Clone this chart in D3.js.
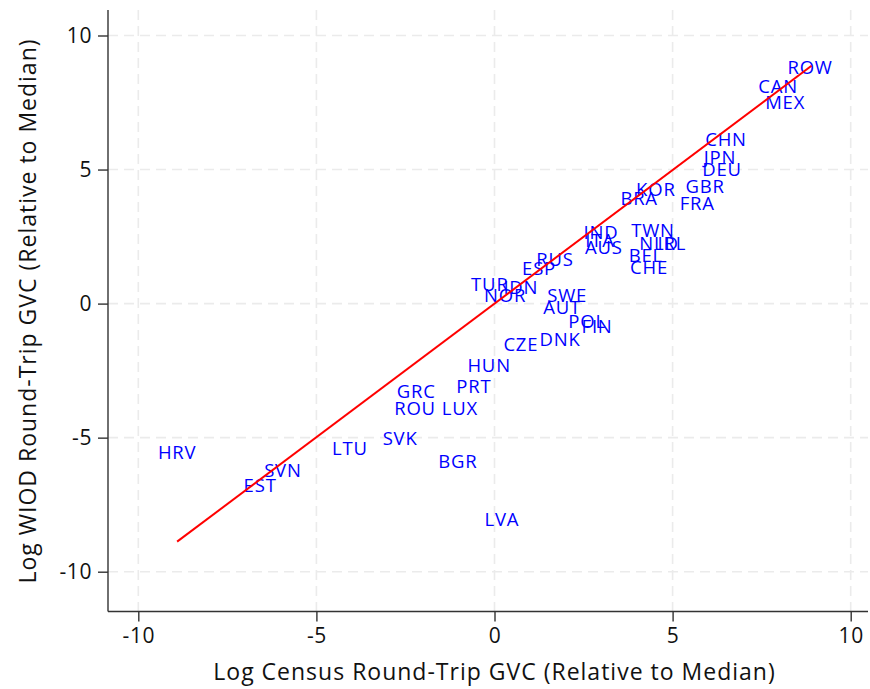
<!DOCTYPE html>
<html><head><meta charset="utf-8">
<script src="https://cdn.jsdelivr.net/npm/d3@7"></script>
<style>body{margin:0;background:#fff}svg{display:block}</style>
</head><body>
<script>
const countries = ["ROW","CAN","MEX","CHN","JPN","DEU","GBR","FRA","KOR","BRA","TWN","NLD","IRL","BEL","CHE","IND","ITA","AUS","RUS","ESP","TUR","IDN","NOR","SWE","AUT","POL","FIN","DNK","CZE","HUN","PRT","GRC","ROU","LUX","SVK","BGR","LVA","LTU","HRV","SVN","EST"];
const censusGVC = [8.86,7.96,8.16,6.50,6.33,6.39,5.91,5.69,4.53,4.06,4.45,4.62,4.98,4.25,4.34,2.99,2.96,3.07,1.70,1.25,-0.13,0.74,0.30,2.04,1.90,2.60,2.88,1.84,0.74,-0.15,-0.58,-2.20,-2.23,-0.97,-2.65,-1.03,0.21,-4.06,-8.91,-5.94,-6.58];
const wiodGVC = [8.83,8.12,7.49,6.11,5.47,5.02,4.39,3.75,4.28,3.94,2.75,2.26,2.26,1.81,1.37,2.67,2.37,2.11,1.66,1.33,0.73,0.62,0.32,0.32,-0.13,-0.65,-0.84,-1.32,-1.51,-2.29,-3.08,-3.26,-3.90,-3.90,-5.02,-5.87,-8.04,-5.39,-5.54,-6.21,-6.77];
const fitX = [-8.91, 8.90];
const fitY = [-8.88, 8.87];
const xTicks = [-10,-5,0,5,10];
const yTicks = [-10,-5,0,5,10];

const W = 870, H = 689;
const font = "'Open Sans', sans-serif";
const svg = d3.select("body").append("svg").attr("width", W).attr("height", H);
const x = d3.scaleLinear().domain([-10, 10]).range([138.3, 850.7]);
const y = d3.scaleLinear().domain([-10, 10]).range([571.7, 35.5]);
const pLeft = 108, pRight = 868, pTop = 10, pBottom = 611.5;

// grid
const grid = svg.append("g").attr("stroke", "#ebebeb").attr("stroke-width", 1.6).attr("stroke-dasharray", "10,6");
grid.selectAll(".gx").data(xTicks).join("line").attr("class", "gx")
  .attr("x1", d => x(d)).attr("x2", d => x(d)).attr("y1", pTop).attr("y2", pBottom);
grid.selectAll(".gy").data(yTicks).join("line").attr("class", "gy")
  .attr("y1", d => y(d)).attr("y2", d => y(d)).attr("x1", pLeft).attr("x2", pRight);

// axes
const xAxis = d3.axisBottom(x).tickValues(xTicks).tickSize(10).tickPadding(7).tickFormat(d3.format("d"));
const yAxis = d3.axisLeft(y).tickValues(yTicks).tickSize(10).tickPadding(6).tickFormat(d3.format("d"));
const gx = svg.append("g").attr("transform", `translate(0,${pBottom})`).call(xAxis);
const gy = svg.append("g").attr("transform", `translate(${pLeft},0)`).call(yAxis);
gx.select(".domain").attr("d", `M${pLeft},0H${pRight}`);
gy.select(".domain").attr("d", `M0,${pTop}V${pBottom}`);
[gx, gy].forEach(g => {
  g.selectAll(".domain,.tick line").attr("stroke", "#333").attr("stroke-width", 1.4);
  g.selectAll(".tick text").attr("font-family", font).attr("font-size", 21).attr("letter-spacing", 0.6)
    .attr("fill", "#111").text(d => d < 0 ? "-" + Math.abs(d) : d);
});

// labels
svg.append("g").selectAll("text").data(countries).join("text")
  .attr("x", (d, i) => x(censusGVC[i]))
  .attr("y", (d, i) => y(wiodGVC[i]))
  .attr("dy", "0.36em")
  .attr("text-anchor", "middle")
  .attr("font-family", font).attr("font-size", 18.5).attr("letter-spacing", 0.8)
  .attr("fill", "#0000ff")
  .text(d => d);

// fit line
svg.append("path")
  .datum(fitX.map((v, i) => [v, fitY[i]]))
  .attr("d", d3.line().x(d => x(d[0])).y(d => y(d[1])))
  .attr("stroke", "#ff0000").attr("stroke-width", 2).attr("fill", "none");

// axis titles
svg.append("text").attr("x", 494.5).attr("y", 680).attr("text-anchor", "middle")
  .attr("font-family", font).attr("font-size", 23).attr("letter-spacing", 1).attr("fill", "#111")
  .text("Log Census Round-Trip GVC (Relative to Median)");
svg.append("text").attr("transform", "translate(36,311) rotate(-90)").attr("text-anchor", "middle")
  .attr("font-family", font).attr("font-size", 23).attr("letter-spacing", 1).attr("fill", "#111")
  .text("Log WIOD Round-Trip GVC (Relative to Median)");
</script>
</body></html>
